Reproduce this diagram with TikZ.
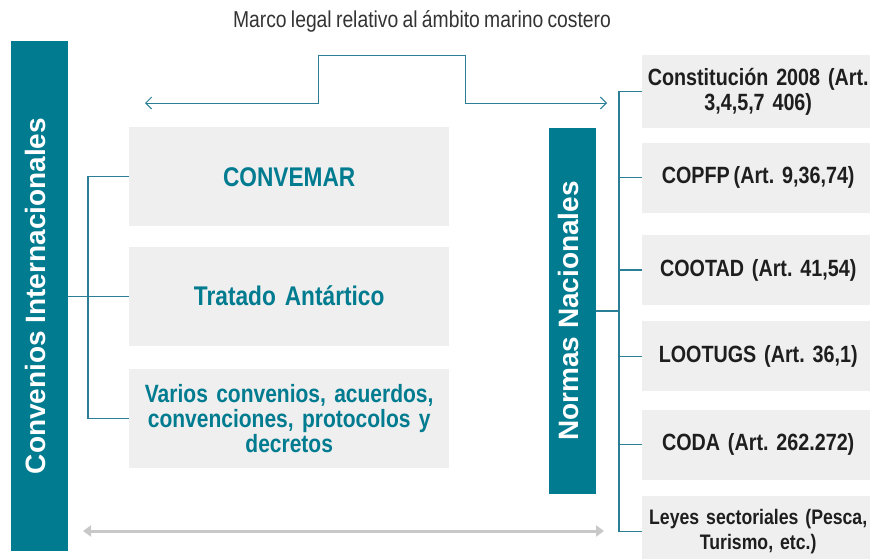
\documentclass[tikz,border=0pt]{standalone}
\usepackage{fontspec}
\setmainfont{Liberation Sans}
\newfontfamily\narrowfont{Liberation Sans}[FakeStretch=0.84, WordSpace=0.8]
\usepackage{xcolor}
\usepackage{tikz}
\usetikzlibrary{positioning, arrows.meta}

\definecolor{petrol}{HTML}{007B8F}
\definecolor{boxgray}{HTML}{EFEFEF}
\definecolor{linkblue}{HTML}{2A7F97}
\definecolor{railgray}{HTML}{C8C8C8}
\definecolor{darktext}{HTML}{1E1E1E}
\definecolor{titletext}{HTML}{333333}
\frenchspacing
\newcommand{\tightspace}{\spaceskip=0.2em plus 0.05em}

\begin{document}
\begin{tikzpicture}[
        x=1pt, y=-1pt,
        bar/.style={rectangle, fill=petrol, text=white, inner sep=0pt, font=\bfseries\fontsize{28}{28}\selectfont},
        intbox/.style={rectangle, fill=boxgray, text=petrol, minimum width=320pt, minimum height=99pt, text width=300pt, align=center, inner sep=0pt, font=\narrowfont\bfseries\fontsize{27}{26}\selectfont\tightspace},
        natbox/.style={rectangle, fill=boxgray, text=darktext, minimum width=232pt, minimum height=70pt, text width=222pt, align=center, inner sep=0pt, font=\narrowfont\bfseries\fontsize{23.5}{25}\selectfont\tightspace},
        link/.style={draw=linkblue, line width=1.2pt},
        arrow/.style={linkblue, line width=1pt, {Straight Barb[length=6pt,width=12pt]}-{Straight Barb[length=6pt,width=12pt]}},
        rail/.style={railgray, line width=3pt, {Triangle[length=8pt,width=11pt]}-{Triangle[length=8pt,width=11pt]}}
        ]
        \useasboundingbox (0,0) rectangle (870,558);

        \node[font=\narrowfont\fontsize{23}{23}\selectfont, text=titletext] (title) at (422,21) {Marco legal relativo al ámbito marino costero};

        % convenios internacionales
        \node[bar, minimum width=57pt, minimum height=510pt] (cinter) at (39.5,296) {\rotatebox{90}{\strut Convenios Internacionales}};
        \node[intbox, anchor=north west] (convemar) at (129,127) {CONVEMAR};
        \node[intbox, below=20pt of convemar] (tratado) {Tratado Antártico};
        \node[intbox, below=23pt of tratado, font=\narrowfont\bfseries\fontsize{25}{25}\selectfont\tightspace] (varios) {Varios convenios, acuerdos,\\ convenciones, protocolos y\\ decretos};

        % normas nacionales
        \node[bar, minimum width=47pt, minimum height=366pt] (cnac) at (572.5,311) {\rotatebox{90}{\strut Normas Nacionales}};
        \node[natbox, anchor=north west, minimum height=73pt] (constitucion) at (642,55) {Constitución 2008 (Art.\\ 3,4,5,7 406)};
        \node[natbox, below=14pt of constitucion] (copfp) {COPFP\,(Art. 9,36,74)};
        \node[natbox, below=22pt of copfp] (cootad) {COOTAD (Art. 41,54)};
        \node[natbox, below=16pt of cootad] (lootugs) {LOOTUGS (Art. 36,1)};
        \node[natbox, below=18pt of lootugs] (coda) {CODA (Art. 262.272)};
        \node[natbox, below=16pt of coda, font=\narrowfont\bfseries\fontsize{21}{25}\selectfont\tightspace] (leyes) {Leyes sectoriales (Pesca,\\ Turismo, etc.)};

        \coordinate (lbus) at (88,0);
        \coordinate (rbus) at (619,0);
        \coordinate (arrowW) at (145,103);
        \coordinate (arrowE) at (607,103);
        \coordinate (bendW) at (318,55);
        \coordinate (bendE) at (465,55);
        \coordinate (railW) at (83,531);
        \coordinate (railE) at (604,531);

        % connectors left
        \draw[link] (convemar.west) -- (convemar.west -| lbus) -- (varios.west -| lbus) -- (varios.west);
        \draw[link] (cinter.east |- tratado.west) -- (tratado.west);

        % connectors right
        \draw[link] (constitucion.west) -- (constitucion.west -| rbus) -- (leyes.west -| rbus) -- (leyes.west);
        \foreach \n in {copfp, cootad, lootugs, coda}
            \draw[link] (\n.west -| rbus) -- (\n.west);
        \draw[link] (cnac.east) -- (cnac.east -| rbus);

        \draw[arrow] (arrowW) -| (bendW) -- (bendE) |- (arrowE);
        \draw[rail] (railW) -- (railE);

    \end{tikzpicture}
\end{document}
